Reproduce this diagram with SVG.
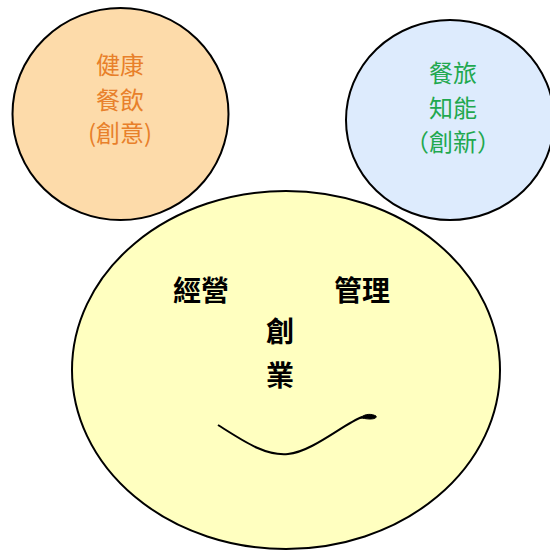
<svg xmlns="http://www.w3.org/2000/svg" width="550" height="551" viewBox="0 0 550 551">
<style>
.node{stroke:#000;stroke-width:2}
.t{font-family:"Noto Sans CJK TC","Noto Sans CJK SC",sans-serif;text-anchor:middle}
.o{fill:#E8802A;font-size:24px}
.g{fill:#1FA84F;font-size:24px}
.b{fill:#000;font-size:28px;font-weight:bold}
</style>
<rect width="550" height="551" fill="#fff"/>
<g id="health">
<ellipse class="node" cx="120.5" cy="114" rx="108" ry="106" fill="#FDDBAA"/>
<text class="t o" x="120" y="74">健康</text>
<text class="t o" x="120" y="109">餐飲</text>
<text class="t o" x="120" y="142">(創意)</text>
</g>
<g id="travel">
<ellipse class="node" cx="450" cy="120" rx="104" ry="100" fill="#DDEBFD"/>
<text class="t g" x="453" y="82">餐旅</text>
<text class="t g" x="453" y="117">知能</text>
<text class="t g" x="453" y="151">（創新）</text>
</g>
<g id="main">
<ellipse class="node" cx="286" cy="370" rx="214" ry="179" fill="#FFFFC0"/>
<text class="t b" x="201" y="301">經營</text>
<text class="t b" x="362" y="301">管理</text>
<text class="t b" x="280" y="342">創</text>
<text class="t b" x="280" y="386">業</text>
<path d="M218,425 C245,442 265,456 288,454 C312,452 345,423 362,417" fill="none" stroke="#000" stroke-width="2"/>
<path d="M360,418 C366,413 372,414 376,416 C377,418 374,419 370,419 C366,419 363,418 360,418 Z" fill="#000" stroke="#000" stroke-width="1"/>
</g>
<g id="connectors"></g>
</svg>
